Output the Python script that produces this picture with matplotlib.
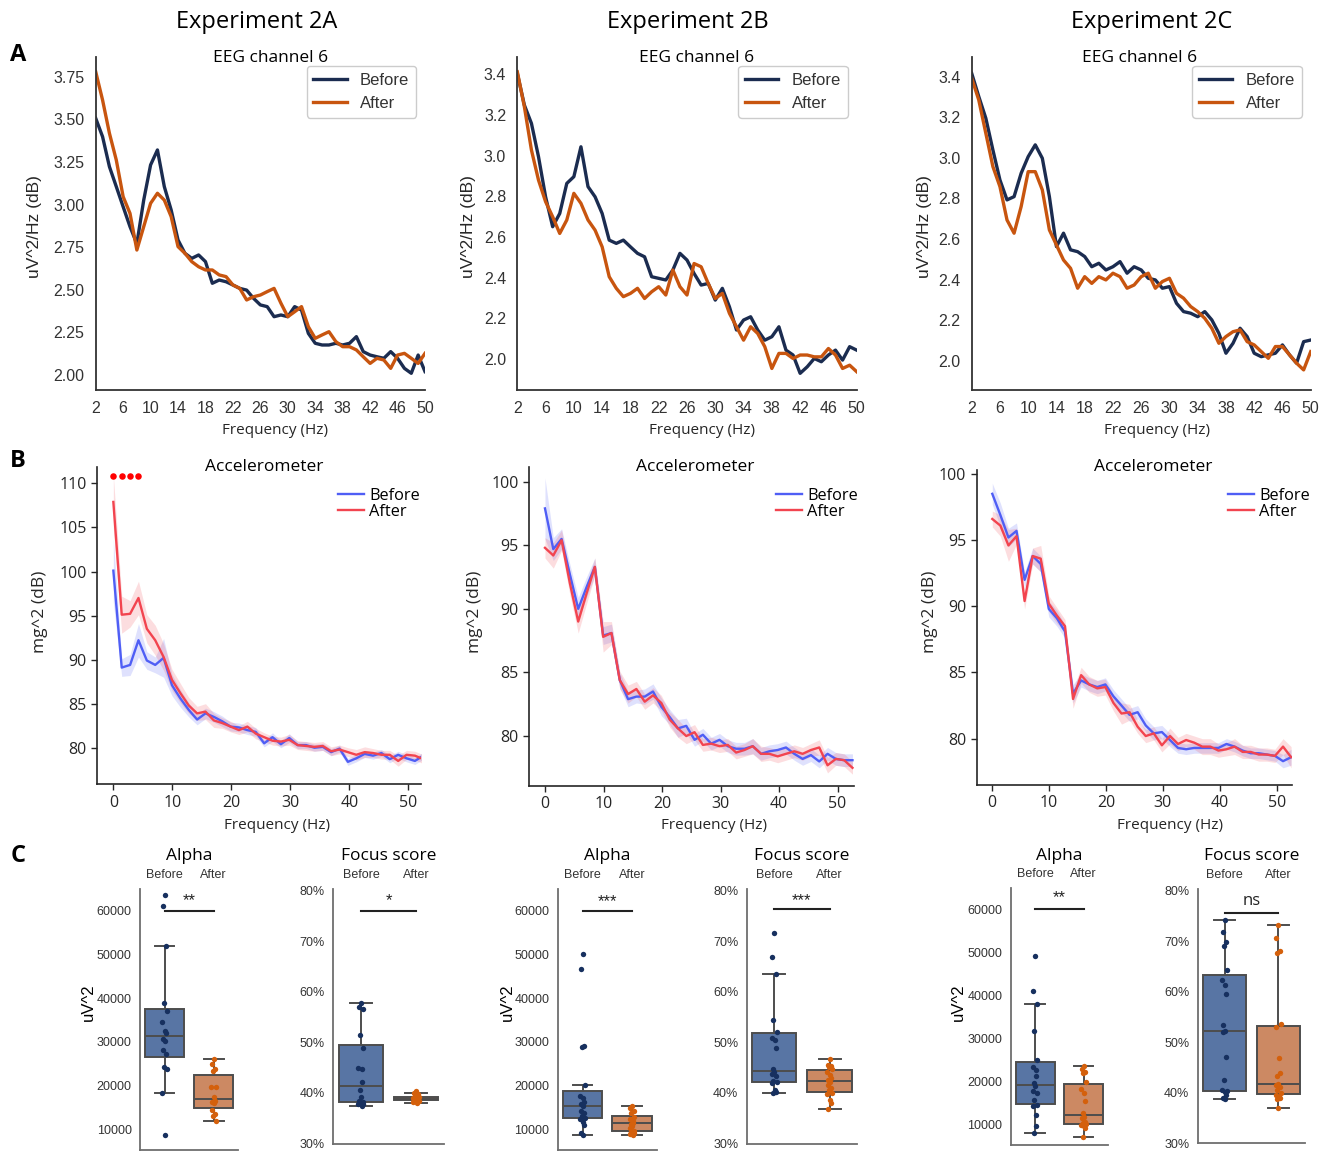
import numpy as np
import matplotlib
matplotlib.use("Agg")
import matplotlib.pyplot as plt
from matplotlib.ticker import FuncFormatter

W, H = 1328, 1151

experiments = ["Experiment 2A", "Experiment 2B", "Experiment 2C"]

# ---- EEG channel 6 spectra, 2-50 Hz (1 Hz bins)
eeg_freq = np.arange(2, 51)

eeg_2a_before = [3.506, 3.398, 3.222, 3.105, 2.987, 2.870, 2.770, 3.026, 3.232, 3.320, 3.105,
                 2.968, 2.792, 2.714, 2.684, 2.704, 2.665, 2.538, 2.557, 2.547, 2.528, 2.508,
                 2.498, 2.450, 2.411, 2.401, 2.342, 2.352, 2.342, 2.401, 2.381, 2.244, 2.186,
                 2.176, 2.176, 2.186, 2.176, 2.186, 2.225, 2.137, 2.117, 2.107, 2.098, 2.137,
                 2.098, 2.039, 2.010, 2.117, 2.020]
eeg_2a_after = [3.779, 3.613, 3.418, 3.261, 3.046, 2.948, 2.733, 2.870, 3.007, 3.066, 3.026,
                2.929, 2.753, 2.714, 2.665, 2.635, 2.616, 2.616, 2.587, 2.577, 2.528, 2.508,
                2.440, 2.459, 2.469, 2.489, 2.508, 2.421, 2.342, 2.371, 2.401, 2.283, 2.215,
                2.235, 2.254, 2.196, 2.166, 2.166, 2.147, 2.107, 2.068, 2.098, 2.088, 2.039,
                2.117, 2.127, 2.098, 2.068, 2.127]

eeg_2b_before = [3.405, 3.249, 3.159, 2.995, 2.798, 2.651, 2.716, 2.864, 2.897, 3.044, 2.848,
                 2.798, 2.716, 2.585, 2.569, 2.585, 2.552, 2.520, 2.503, 2.405, 2.397, 2.389,
                 2.438, 2.520, 2.487, 2.421, 2.364, 2.372, 2.290, 2.348, 2.257, 2.143, 2.192,
                 2.208, 2.143, 2.093, 2.110, 2.159, 2.044, 2.020, 1.930, 1.962, 2.003, 1.987,
                 2.020, 2.044, 1.995, 2.061, 2.044]
eeg_2b_after = [3.413, 3.241, 3.028, 2.880, 2.774, 2.700, 2.618, 2.684, 2.815, 2.766, 2.684,
                2.634, 2.552, 2.405, 2.348, 2.307, 2.323, 2.348, 2.298, 2.331, 2.356, 2.315,
                2.438, 2.356, 2.315, 2.470, 2.454, 2.372, 2.298, 2.323, 2.225, 2.159, 2.093,
                2.159, 2.126, 2.061, 1.954, 2.028, 2.028, 2.003, 2.020, 2.020, 2.011, 2.011,
                2.052, 2.020, 1.954, 1.970, 1.938]

eeg_2c_before = [3.416, 3.302, 3.195, 3.039, 2.891, 2.793, 2.809, 2.924, 3.006, 3.064, 2.998,
                 2.809, 2.563, 2.629, 2.547, 2.538, 2.514, 2.464, 2.481, 2.448, 2.464, 2.489,
                 2.432, 2.464, 2.448, 2.407, 2.399, 2.358, 2.366, 2.284, 2.243, 2.235, 2.218,
                 2.243, 2.202, 2.136, 2.038, 2.087, 2.161, 2.120, 2.038, 2.021, 2.030, 2.038,
                 2.079, 2.030, 1.989, 2.095, 2.103]
eeg_2c_after = [3.392, 3.285, 3.121, 2.957, 2.858, 2.694, 2.629, 2.760, 2.932, 2.932, 2.842,
                2.645, 2.571, 2.497, 2.456, 2.358, 2.415, 2.382, 2.415, 2.399, 2.432, 2.415,
                2.358, 2.374, 2.415, 2.432, 2.358, 2.391, 2.407, 2.333, 2.309, 2.268, 2.243,
                2.210, 2.161, 2.087, 2.120, 2.144, 2.153, 2.095, 2.079, 2.046, 2.013, 2.071,
                2.071, 2.030, 1.989, 1.956, 2.046]

# ---- accelerometer spectra (mean and s.e.m.), 1.42 Hz bins
acc_freq = np.arange(38) * 1.42

acc_2a_before = [100.1, 89.1, 89.4, 92.2, 89.9, 89.4, 90.2, 87.1, 85.6, 84.3, 83.2, 83.9, 83.5,
                 83.0, 82.4, 82.3, 82.0, 81.8, 80.5, 81.2, 80.4, 81.1, 80.3, 80.3, 80.0, 80.1,
                 79.5, 79.9, 78.4, 78.8, 79.3, 79.1, 79.4, 78.7, 79.2, 78.8, 78.5, 79.1]
acc_2a_before_err = [3.6, 1.0, 1.2, 1.9, 1.0, 0.9, 2.2, 1.2, 1.0, 0.8, 0.6, 0.6, 0.6, 0.6, 0.5,
                     0.5, 0.5, 0.5, 0.4, 0.5, 0.4, 0.5, 0.4, 0.4, 0.4, 0.4, 0.4, 0.4, 0.4, 0.4,
                     0.4, 0.4, 0.4, 0.4, 0.4, 0.4, 0.4, 0.4]
acc_2a_after = [107.9, 95.1, 95.2, 97.0, 93.5, 92.2, 90.3, 87.7, 86.2, 84.8, 83.9, 84.1, 83.1,
                82.8, 82.4, 82.0, 82.4, 81.6, 81.2, 80.8, 80.7, 80.9, 80.3, 80.2, 80.1, 80.2,
                79.6, 79.8, 79.5, 79.2, 79.5, 79.4, 79.2, 79.2, 78.5, 79.2, 79.1, 78.7]
acc_2a_after_err = [3.0, 2.1, 1.5, 1.9, 1.6, 1.7, 1.5, 1.2, 1.1, 0.9, 0.8, 0.9, 0.8, 0.6, 0.6,
                    0.5, 0.6, 0.6, 0.5, 0.5, 0.5, 0.6, 0.5, 0.5, 0.5, 0.5, 0.5, 0.5, 0.5, 0.6,
                    0.6, 0.5, 0.5, 0.5, 0.6, 0.5, 0.5, 0.5]

acc_2b_before = [97.9, 94.7, 95.5, 92.7, 90.0, 91.7, 93.3, 87.9, 88.1, 84.4, 82.9, 83.1, 83.1,
                 83.5, 82.3, 81.5, 80.6, 80.8, 79.7, 80.1, 79.4, 79.7, 79.2, 79.0, 79.0, 79.2,
                 78.6, 78.8, 78.9, 79.1, 78.6, 78.2, 78.5, 78.0, 78.6, 78.2, 78.1, 78.1]
acc_2b_before_err = [2.4, 0.9, 0.8, 0.8, 0.9, 0.8, 0.7, 0.7, 0.7, 0.6, 0.6, 0.5, 0.6, 0.6, 0.7,
                     0.6, 0.7, 0.6, 0.5, 0.5, 0.5, 0.5, 0.5, 0.5, 0.5, 0.6, 0.5, 0.5, 0.5, 0.5,
                     0.5, 0.5, 0.5, 0.5, 0.5, 0.5, 0.5, 0.5]
acc_2b_after = [94.8, 94.2, 95.4, 92.0, 89.0, 91.2, 93.3, 87.8, 88.1, 84.4, 83.3, 83.7, 82.7,
                83.2, 82.6, 81.3, 80.6, 80.0, 80.3, 79.3, 79.4, 79.2, 79.3, 78.7, 78.9, 79.2,
                78.6, 78.6, 78.4, 78.6, 78.8, 78.6, 78.9, 79.1, 77.7, 78.2, 78.1, 77.5]
acc_2b_after_err = [0.8, 1.0, 0.8, 0.9, 0.9, 0.8, 0.7, 1.2, 0.9, 0.7, 0.7, 0.6, 0.6, 0.6, 0.6,
                    0.6, 0.7, 0.6, 0.6, 0.5, 0.5, 0.5, 0.5, 0.5, 0.5, 0.6, 0.6, 0.5, 0.5, 0.5,
                    0.5, 0.5, 0.5, 0.6, 0.6, 0.5, 0.5, 0.5]

acc_2c_before = [98.5, 96.9, 95.2, 95.7, 92.0, 93.8, 93.2, 89.8, 89.1, 88.1, 83.4, 84.4, 84.1,
                 83.9, 84.1, 83.2, 82.5, 81.8, 82.0, 81.0, 80.4, 80.5, 79.9, 79.3, 79.2, 79.3,
                 79.3, 79.3, 79.3, 79.6, 79.4, 79.1, 78.9, 78.9, 78.8, 78.7, 78.3, 78.6]
acc_2c_before_err = [0.8, 0.9, 0.7, 0.6, 0.6, 0.6, 0.6, 0.6, 0.6, 0.5, 0.7, 0.5, 0.5, 0.5, 0.5,
                     0.5, 0.5, 0.5, 0.5, 0.5, 0.5, 0.5, 0.5, 0.4, 0.4, 0.4, 0.4, 0.4, 0.4, 0.4,
                     0.4, 0.4, 0.4, 0.4, 0.4, 0.4, 0.5, 0.6]
acc_2c_after = [96.6, 96.1, 94.6, 95.3, 90.4, 93.8, 93.6, 90.2, 89.3, 88.5, 83.0, 84.8, 84.1,
                83.8, 83.9, 82.7, 81.9, 82.0, 80.9, 80.2, 80.4, 79.5, 80.2, 79.6, 79.9, 79.7,
                79.4, 79.4, 79.1, 79.2, 79.4, 79.0, 79.0, 78.8, 78.8, 78.7, 79.4, 78.6]
acc_2c_after_err = [0.6, 0.8, 1.2, 0.6, 0.6, 0.6, 1.0, 0.6, 0.6, 0.5, 0.7, 0.6, 0.6, 0.6, 0.6,
                    0.6, 0.8, 0.6, 0.5, 0.5, 0.5, 0.5, 0.6, 0.5, 0.5, 0.5, 0.6, 0.6, 0.5, 0.5,
                    0.6, 0.5, 0.5, 0.5, 0.5, 0.5, 0.6, 0.8]

acc_2a_sig_bins = [0, 1, 2, 3]

# ---- per-subject alpha power (uV^2) and focus score (%)
alpha_2a_before = [63580, 61070, 52000, 38810, 37130, 34540, 32560, 31950, 30580, 30200,
                   28140, 27150, 24330, 23720, 18230, 8630]
alpha_2a_after = [26080, 24940, 23720, 23340, 19760, 19600, 17400, 16480, 16320, 15940,
                  14420, 13500, 13050, 11900]
focus_2a_before = [57.8, 57.0, 56.6, 51.5, 48.9, 44.9, 44.8, 42.1, 40.5, 39.2, 38.4, 38.2,
                   38.1, 37.9, 37.8, 37.4]
focus_2a_after = [40.4, 40.0, 39.7, 39.4, 39.2, 39.1, 39.0, 38.9, 38.9, 38.8, 38.7, 38.6,
                  38.5, 38.4, 38.2, 38.0]

alpha_2b_before = [50080, 46640, 29160, 28780, 20150, 17550, 17250, 16300, 15800, 15420,
                   14200, 13660, 13130, 12640, 12400, 11750, 11000, 9080, 8700]
alpha_2b_after = [15300, 14800, 14200, 13800, 12900, 12400, 11900, 11500, 11200, 10800,
                  10400, 9600, 9500, 9200, 9000, 8800]
focus_2b_before = [71.6, 66.9, 63.6, 54.4, 52.1, 50.8, 50.4, 48.8, 44.7, 44.1, 43.7, 43.3,
                   42.4, 42.1, 42.0, 40.5, 40.2, 40.0]
focus_2b_after = [46.8, 45.5, 45.4, 45.2, 44.7, 44.2, 43.6, 43.0, 42.5, 42.1, 41.6, 41.0,
                  40.5, 40.0, 39.8, 38.6, 38.0, 36.8]

alpha_2c_before = [49170, 41000, 37880, 31810, 25000, 23240, 22700, 21140, 19600, 18800,
                   17630, 17240, 15680, 14520, 14130, 12180, 9610, 8050]
alpha_2c_after = [23470, 22850, 22150, 21920, 19810, 18180, 17240, 15450, 12730, 11790,
                  11500, 10620, 10230, 10000, 9840, 9610, 9070, 7120]
focus_2c_before = [74.3, 71.9, 69.8, 69.1, 64.4, 62.4, 61.3, 59.6, 53.4, 52.2, 52.0, 47.0,
                   42.6, 40.3, 40.5, 40.1, 39.5, 38.9, 38.7]
focus_2c_after = [73.2, 70.7, 68.0, 67.6, 53.6, 53.0, 46.8, 43.9, 43.3, 41.8, 41.5, 41.2,
                  40.5, 40.0, 39.5, 39.1, 38.9, 38.7, 37.0]

alpha_sig = ["**", "***", "**"]
focus_sig = ["*", "***", "ns"]

# ---- styling
NAVY = "#1b2c50"
ORANGE = "#c8550f"
ACC_BLUE = "#4f5ef5"
ACC_RED = "#f2444f"
BOX_BLUE = "#5875a4"
BOX_ORANGE = "#cc8963"
PT_BLUE = "#17305f"
PT_ORANGE = "#d4600c"
EDGE = "#4d4d4d"
SANS = ["Liberation Sans", "DejaVu Sans"]
OPEN = ["Open Sans", "DejaVu Sans"]
plt.rcParams["font.family"] = SANS

fig = plt.figure(figsize=(W / 100, H / 100), dpi=100)


def px_axes(l, t, r, b):
    return fig.add_axes([l / W, 1 - b / H, (r - l) / W, (b - t) / H])


def px_text(x, y, s, **kw):
    kw.setdefault("ha", "center")
    kw.setdefault("va", "center")
    fig.text(x / W, 1 - y / H, s, **kw)


# column headers and row letters
for x, name in zip([257, 688, 1152], experiments):
    px_text(x, 22, name, fontsize=17, family=OPEN)
for y, letter in zip([55, 461, 856], "ABC"):
    px_text(18, y, letter, fontsize=17, weight="bold", family=OPEN)

# ---- row A: EEG spectra
eeg_panels = [
    (eeg_2a_before, eeg_2a_after, (95.7, 56.7, 425, 390), (1.912, 3.867),
     np.arange(2.0, 3.8, 0.25), "{:.2f}", 271, 275, 35),
    (eeg_2b_before, eeg_2b_after, (517.3, 56.7, 856.7, 390), (1.848, 3.487),
     np.arange(2.0, 3.45, 0.2), "{:.1f}", 697, 702, 468),
    (eeg_2c_before, eeg_2c_after, (971.7, 56.7, 1310.7, 390), (1.857, 3.498),
     np.arange(2.0, 3.45, 0.2), "{:.1f}", 1140, 1157, 925),
]
for before, after, box, ylim, yt, fmt, tx, fx, lx in eeg_panels:
    ax = px_axes(*box)
    ax.plot(eeg_freq, before, color=NAVY, lw=2.4, label="Before")
    ax.plot(eeg_freq, after, color=ORANGE, lw=2.4, label="After")
    ax.set_xlim(2, 50)
    ax.set_ylim(*ylim)
    ax.set_xticks(np.arange(2, 51, 4))
    ax.set_yticks(yt)
    ax.yaxis.set_major_formatter(FuncFormatter(lambda v, _, f=fmt: f.format(v)))
    for s in ["top", "right"]:
        ax.spines[s].set_visible(False)
    for s in ["left", "bottom"]:
        ax.spines[s].set_color("#333333")
        ax.spines[s].set_linewidth(1.3)
    ax.tick_params(length=0, pad=8, labelsize=11.5, labelcolor="#333333")
    leg = ax.legend(loc="upper right", fontsize=12, frameon=True, fancybox=True,
                    framealpha=1, edgecolor="#cccccc", borderaxespad=0.55)
    for t in leg.get_texts():
        t.set_color("#333333")
    px_text(tx, 58, "EEG channel 6", fontsize=12.5, family=OPEN)
    px_text(fx, 430, "Frequency (Hz)", fontsize=11, family=OPEN, color="#262626")
    px_text(lx, 227, "uV^2/Hz (dB)", fontsize=12.5, rotation=90, color="#262626")

# ---- row B: accelerometer spectra
acc_panels = [
    (acc_2a_before, acc_2a_before_err, acc_2a_after, acc_2a_after_err,
     (97, 466.7, 420.7, 784.3), (-2.77, 52.1), (75.85, 111.9), np.arange(80, 111, 5),
     264, 277, 40, 338),
    (acc_2b_before, acc_2b_before_err, acc_2b_after, acc_2b_after_err,
     (529, 466.7, 854, 786), (-2.73, 52.8), (76.07, 101.18), np.arange(80, 101, 5),
     695, 714, 475, 776),
    (acc_2c_before, acc_2c_before_err, acc_2c_after, acc_2c_after_err,
     (976.7, 470, 1292.3, 785), (-2.74, 52.75), (76.5, 100.3), np.arange(80, 101, 5),
     1153, 1170, 930, 1228),
]
for i, (b, be, a, ae, box, xlim, ylim, yt, tx, fx, lx, legx) in enumerate(acc_panels):
    ax = px_axes(*box)
    b, be, a, ae = map(np.asarray, (b, be, a, ae))
    ax.fill_between(acc_freq, b - be, b + be, color=ACC_BLUE, alpha=0.18, lw=0)
    ax.fill_between(acc_freq, a - ae, a + ae, color=ACC_RED, alpha=0.18, lw=0)
    ax.plot(acc_freq, b, color=ACC_BLUE, lw=1.7, label="Before")
    ax.plot(acc_freq, a, color=ACC_RED, lw=1.7, label="After")
    if i == 0:
        ax.scatter(acc_freq[acc_2a_sig_bins], [110.8] * len(acc_2a_sig_bins),
                   s=22, color="red", lw=0, zorder=4, clip_on=False)
    ax.set_xlim(*xlim)
    ax.set_ylim(*ylim)
    ax.set_xticks(np.arange(0, 51, 10))
    ax.set_yticks(yt)
    for s in ["top", "right"]:
        ax.spines[s].set_visible(False)
    for s in ["left", "bottom"]:
        ax.spines[s].set_color("#262626")
        ax.spines[s].set_linewidth(1.2)
    ax.tick_params(length=4, width=1, colors="#262626", labelsize=11.5)
    for lab in ax.get_xticklabels() + ax.get_yticklabels():
        lab.set_family(OPEN)
    ax.legend(loc="upper left", bbox_to_anchor=(legx / W, 1 - 488 / H),
              bbox_transform=fig.transFigure, frameon=False,
              handlelength=1.6, handletextpad=0.3, labelspacing=0.0,
              borderpad=0, borderaxespad=0, prop={"family": OPEN, "size": 11.8})
    px_text(tx, 467, "Accelerometer", fontsize=12.5, family=OPEN)
    px_text(fx, 825.7, "Frequency (Hz)", fontsize=11, family=OPEN, color="#262626")
    px_text(lx, 612, "mg^2 (dB)", fontsize=12.5, rotation=90, family=OPEN, color="#262626")

# ---- row C: box plots with subject points
JITTER = np.array([0.0, -0.035, 0.03, -0.015, 0.045, -0.05, 0.015, 0.025, -0.025])


def box_panel(ax, before, after, ylim, yt, fmt, sig_y, sig_txt, txt_y):
    data = [before, after]
    bp = ax.boxplot(data, positions=[0, 1], widths=0.8, patch_artist=True,
                    showfliers=False, whis=1.5, capwidths=0.4,
                    medianprops=dict(color=EDGE, lw=1.4),
                    boxprops=dict(edgecolor=EDGE, lw=1.4),
                    whiskerprops=dict(color=EDGE, lw=1.4),
                    capprops=dict(color=EDGE, lw=1.4))
    for patch, c in zip(bp["boxes"], [BOX_BLUE, BOX_ORANGE]):
        patch.set_facecolor(c)
    for k, (vals, c) in enumerate(zip(data, [PT_BLUE, PT_ORANGE])):
        off = JITTER[np.arange(len(vals)) % len(JITTER)]
        ax.scatter(k + off, vals, s=15, color=c, lw=0, zorder=3)
    ax.plot([0, 1], [sig_y, sig_y], color="#222222", lw=1.5)
    ax.text(0.5, txt_y, sig_txt, ha="center", va="center", fontsize=12,
            color="#222222", family=OPEN if sig_txt == "ns" else SANS)
    ax.set_xlim(-0.5, 1.5)
    ax.set_ylim(*ylim)
    ax.set_yticks(yt)
    ax.yaxis.set_major_formatter(FuncFormatter(lambda v, _, f=fmt: f.format(v)))
    ax.xaxis.tick_top()
    ax.set_xticks([0, 1])
    ax.set_xticklabels(["Before", "After"])
    for s in ["top", "right"]:
        ax.spines[s].set_visible(False)
    for s in ["left", "bottom"]:
        ax.spines[s].set_color("#6e6e6e")
        ax.spines[s].set_linewidth(1.3)
    ax.tick_params(length=0, pad=6, labelsize=9, labelcolor="#333333")


box_layout = [
    ((140, 889.3, 238.3, 1150), (5270, 64900), (333.3, 889.3, 443.8, 1143.5), 88, 62200, 78.0),
    ((557.7, 889.3, 656.9, 1150), (5270, 64900), (746.7, 889.3, 857.2, 1143.5), 507, 62100, 78.0),
    ((1010.7, 888.3, 1108.1, 1145), (5170, 64900), (1197.7, 889.3, 1305.1, 1143.3), 958, 62800, 77.9),
]
alpha_sets = [(alpha_2a_before, alpha_2a_after), (alpha_2b_before, alpha_2b_after),
              (alpha_2c_before, alpha_2c_after)]
focus_sets = [(focus_2a_before, focus_2a_after), (focus_2b_before, focus_2b_after),
              (focus_2c_before, focus_2c_after)]
focus_bar_y = [76.1, 76.5, 75.7]

for i, (abox, aylim, fbox, lx, a_txt_y, f_txt_y) in enumerate(box_layout):
    ax = px_axes(*abox)
    box_panel(ax, *alpha_sets[i], aylim, np.arange(10000, 60001, 10000), "{:.0f}",
              60000, alpha_sig[i], a_txt_y)
    px_text((abox[0] + abox[2]) / 2, 856, "Alpha", fontsize=12.5, family=OPEN)
    px_text(lx, 1002, "uV^2", fontsize=12, rotation=90)

    ax = px_axes(*fbox)
    box_panel(ax, *focus_sets[i], (30, 80.3), np.arange(30, 81, 10), "{:.0f}%",
              focus_bar_y[i], focus_sig[i], f_txt_y)
    px_text((fbox[0] + fbox[2]) / 2, 856, "Focus score", fontsize=12.5, family=OPEN)

fig.savefig("out.png", dpi=100, facecolor="white")
